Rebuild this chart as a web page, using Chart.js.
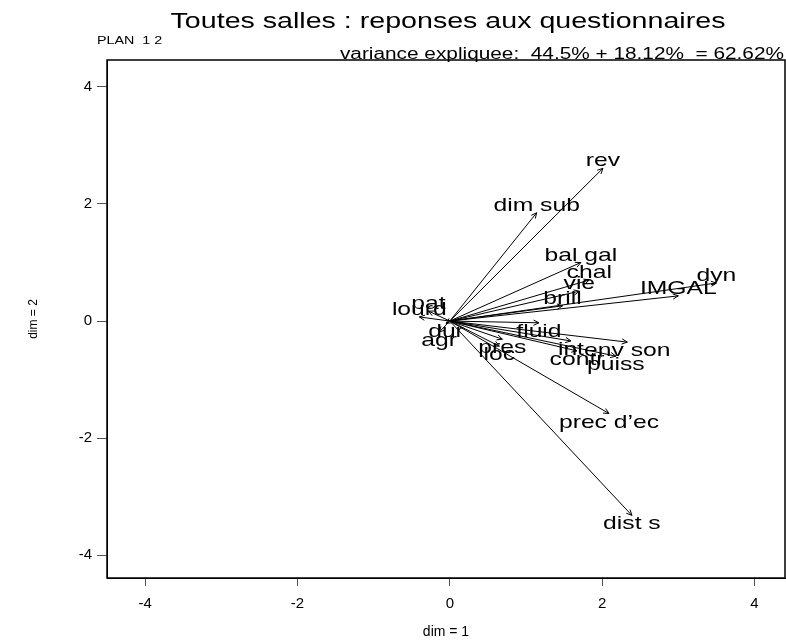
<!DOCTYPE html>
<html>
<head>
<meta charset="utf-8">
<script src="https://cdn.jsdelivr.net/npm/chart.js@4/dist/chart.umd.min.js"></script>
<style>
  body { margin: 0; background: #fff; }
  #wrap { width: 786px; height: 641px; }
</style>
</head>
<body>
<div id="wrap"><canvas id="acp" width="786" height="641"></canvas></div>
<script>
// variables of the PCA, plan 1-2
const varLabels = ["rev", "dim sub", "bal gal", "chal", "vie", "brill", "IMGAL", "dyn",
  "fluid", "int", "env son", "contr", "puiss", "pres", "loc", "prec d\u2019ec", "dist s",
  "lourd", "pat", "dur", "agr"];
const dim1 = [2.01, 1.14, 1.72, 1.83, 1.70, 1.48, 3.00, 3.50,
  1.17, 1.59, 2.33, 1.67, 2.18, 0.69, 0.65, 2.09, 2.39,
  -0.40, -0.28, -0.05, -0.14];
const dim2 = [2.61, 1.85, 1.00, 0.70, 0.51, 0.26, 0.43, 0.65,
  -0.03, -0.34, -0.36, -0.51, -0.60, -0.31, -0.43, -1.58, -3.32,
  0.07, 0.17, -0.04, -0.19];

const xTicks = [-4, -2, 0, 2, 4];
const yTicks = [-4, -2, 0, 2, 4];

const titleText = "Toutes salles : reponses aux questionnaires";
const planText = "PLAN  1 2";
const varianceText = "variance expliquee:  44.5% + 18.12%  = 62.62%";

const FONT = "'Liberation Sans', Arial, sans-serif";
const SX = 1.3; // the original output is stretched horizontally

function stretchText(ctx, txt, x, y, size, align) {
  ctx.save();
  ctx.font = size + "px " + FONT;
  ctx.textAlign = align;
  ctx.textBaseline = "alphabetic";
  ctx.fillStyle = "#000";
  ctx.translate(x, y);
  ctx.scale(SX, 1);
  ctx.fillText(txt, 0, 0);
  ctx.restore();
}

const datasets = varLabels.map((lab, i) => ({
  label: lab,
  data: [{ x: 0, y: 0 }, { x: dim1[i], y: dim2[i] }],
  showLine: true,
  borderColor: "#000",
  borderWidth: 1,
  pointRadius: 0,
  pointHoverRadius: 0,
  fill: false
}));

const arrowPlugin = {
  id: "arrows",
  afterDatasetsDraw(chart) {
    const ctx = chart.ctx;
    chart.data.datasets.forEach((ds, i) => {
      const meta = chart.getDatasetMeta(i);
      const p0 = meta.data[0], p1 = meta.data[1];
      const a = Math.atan2(p1.y - p0.y, p1.x - p0.x);
      const len = 6, spread = Math.PI / 7;
      ctx.save();
      ctx.strokeStyle = "#000";
      ctx.lineWidth = 1;
      ctx.beginPath();
      ctx.moveTo(p1.x - len * Math.cos(a - spread), p1.y - len * Math.sin(a - spread));
      ctx.lineTo(p1.x, p1.y);
      ctx.lineTo(p1.x - len * Math.cos(a + spread), p1.y - len * Math.sin(a + spread));
      ctx.stroke();
      ctx.restore();
      // label of the variable
      const dy = dim2[i] >= 0 ? -2 : 14;
      stretchText(ctx, ds.label, p1.x, p1.y + dy, 19, "center");
    });
  }
};

const framePlugin = {
  id: "frame",
  afterDraw(chart) {
    const ctx = chart.ctx;
    const a = chart.chartArea;
    ctx.save();
    ctx.strokeStyle = "#000";
    ctx.lineWidth = 1.5;
    ctx.strokeRect(Math.round(a.left), Math.round(a.top), Math.round(a.right - a.left), Math.round(a.bottom - a.top));
    ctx.restore();
    stretchText(ctx, titleText, (a.left + a.right) / 2 + 2, 28, 22, "center");
    stretchText(ctx, planText, 97, 44, 11, "left");
    stretchText(ctx, varianceText, a.right - 1, 58.5, 16, "right");
  }
};

new Chart(document.getElementById("acp"), {
  type: "scatter",
  data: { datasets: datasets },
  options: {
    responsive: false,
    animation: false,
    events: [],
    layout: { padding: { top: 60, right: 1, bottom: 0, left: 0 } },
    plugins: {
      legend: { display: false },
      tooltip: { enabled: false },
      title: { display: false }
    },
    scales: {
      x: {
        type: "linear",
        min: -4.5,
        max: 4.4,
        afterBuildTicks: (axis) => { axis.ticks = xTicks.map(v => ({ value: v })); },
        afterFit: (scale) => { scale.height = 63; },
        grid: { drawOnChartArea: false, drawTicks: true, tickLength: 8, color: "#555" },
        border: { display: true, color: "#000", width: 1 },
        ticks: { color: "#000", padding: 9, font: { family: FONT, size: 15 } },
        title: { display: true, text: "dim = 1", color: "#000", font: { family: FONT, size: 14 }, padding: { top: 1, bottom: 0 } }
      },
      y: {
        type: "linear",
        min: -4.39,
        max: 4.46,
        afterBuildTicks: (axis) => { axis.ticks = yTicks.map(v => ({ value: v })); },
        afterFit: (scale) => { scale.width = 107; },
        grid: { drawOnChartArea: false, drawTicks: true, tickLength: 10, color: "#555" },
        border: { display: true, color: "#000", width: 1 },
        ticks: { color: "#000", padding: 5, font: { family: FONT, size: 15 } },
        title: { display: true, text: "dim = 2", color: "#000", font: { family: FONT, size: 12 }, padding: { top: 26, bottom: 0 } }
      }
    }
  },
  plugins: [arrowPlugin, framePlugin]
});
</script>
</body>
</html>
